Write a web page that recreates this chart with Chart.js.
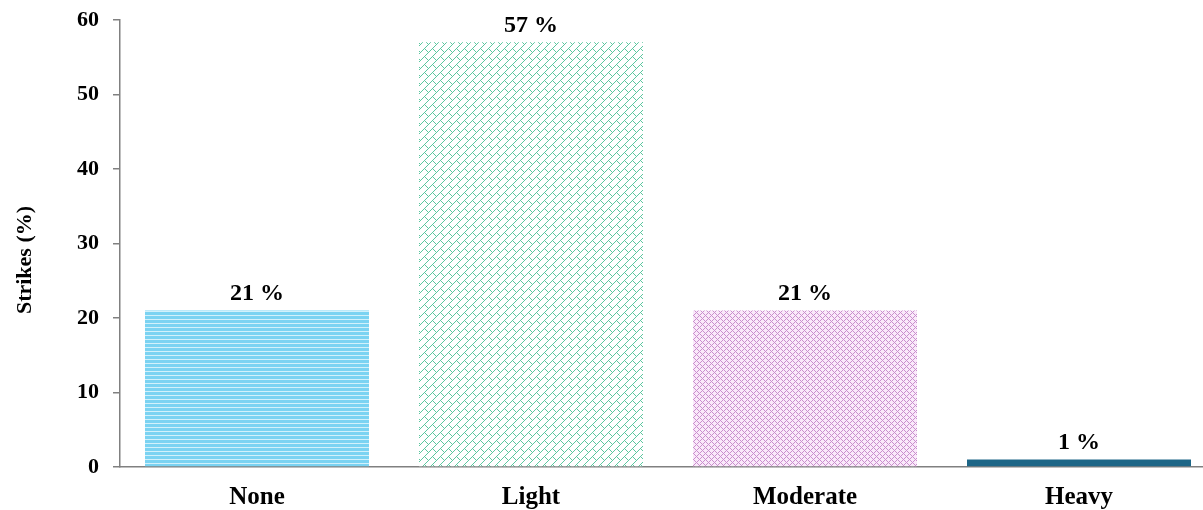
<!DOCTYPE html>
<html>
<head>
<meta charset="utf-8">
<script src="https://cdn.jsdelivr.net/npm/chart.js@4"></script>
<style>
  html, body { margin: 0; padding: 0; background: #ffffff; overflow: hidden; }
  #wrap { width: 1216px; height: 510px; position: relative; }
</style>
</head>
<body>
<div id="wrap"><canvas id="c"></canvas></div>
<script>
// Strike intensity categories and their share of all strikes (%)
const categories = ['None', 'Light', 'Moderate', 'Heavy'];
const strikePercent = [21, 57, 21, 1];
const yTicks = [0, 10, 20, 30, 40, 50, 60];
const yTitle = 'Strikes (%)';

const FONT = '"Liberation Serif", "Times New Roman", serif';

function hexRgb(h) {
  return [parseInt(h.slice(1, 3), 16), parseInt(h.slice(3, 5), 16), parseInt(h.slice(5, 7), 16)];
}

// build a repeating fill from a per-pixel rule
function pixelPattern(size, bg, fg, isInk) {
  const t = document.createElement('canvas');
  t.width = size; t.height = size;
  const g = t.getContext('2d');
  const img = g.createImageData(size, size);
  const b = hexRgb(bg), f = hexRgb(fg);
  for (let y = 0; y < size; y++) {
    for (let x = 0; x < size; x++) {
      const c = isInk(x, y) ? f : b;
      const k = (y * size + x) * 4;
      img.data[k] = c[0]; img.data[k + 1] = c[1]; img.data[k + 2] = c[2]; img.data[k + 3] = 255;
    }
  }
  g.putImageData(img, 0, 0);
  return document.getElementById('c').getContext('2d').createPattern(t, 'repeat');
}

// horizontal stripes (light blue)
const stripes = pixelPattern(4, '#7bd3f2', '#d2f1fb', (x, y) => y === 3);

// shingle weave (green): continuous "/" rules with staggered "\" caps
const shingle = pixelPattern(16, '#ffffff', '#5cc69f', (x, y) => {
  const s = x + y;
  const u = s % 8;
  const strip = Math.floor(s / 8) % 2;
  const v = ((x - y) % 16 + 16) % 16;
  const cap = ((v + strip * 8) % 16) < 1;
  return u === 0 || cap;
});

// diamond lattice (purple)
const lattice = pixelPattern(6, '#fae9fa', '#c98fcd', (x, y) => x === y || x === (6 - y) % 6);

const barFills = [stripes, shingle, lattice, '#1d6687'];

// value labels above each bar, plus the rotated y-axis title
const annotations = {
  id: 'annotations',
  afterDatasetsDraw(chart) {
    const ctx = chart.ctx;
    const meta = chart.getDatasetMeta(0);
    ctx.save();
    ctx.font = 'bold 24px ' + FONT;
    ctx.fillStyle = '#000000';
    ctx.textAlign = 'center';
    ctx.textBaseline = 'bottom';
    meta.data.forEach((bar, i) => {
      ctx.fillText(strikePercent[i] + ' %', bar.x, bar.y - 5);
    });
    ctx.restore();

    ctx.save();
    ctx.translate(25, chart.height / 2 + 5);
    ctx.rotate(-Math.PI / 2);
    ctx.font = 'bold 22px ' + FONT;
    ctx.fillStyle = '#000000';
    ctx.textAlign = 'center';
    ctx.textBaseline = 'middle';
    ctx.fillText(yTitle, 0, 0);
    ctx.restore();
  }
};

new Chart(document.getElementById('c'), {
  type: 'bar',
  data: {
    labels: categories,
    datasets: [{
      data: strikePercent,
      backgroundColor: barFills,
      borderWidth: 0,
      barPercentage: 0.8175,
      categoryPercentage: 1.0
    }]
  },
  options: {
    responsive: true,
    maintainAspectRatio: false,
    animation: false,
    layout: { padding: { top: 20, left: 0, right: 0, bottom: 0 } },
    plugins: {
      legend: { display: false },
      tooltip: { enabled: false }
    },
    scales: {
      x: {
        afterFit(scale) { scale.height = 43; scale.paddingLeft = 0; scale.paddingRight = 0; },
        grid: { display: false, drawTicks: false },
        border: { display: true, color: '#808080', width: 1.5 },
        ticks: {
          color: '#000000',
          padding: 16,
          font: { family: FONT, size: 25, weight: 'bold' }
        }
      },
      y: {
        min: 0,
        max: 60,
        afterBuildTicks(scale) { scale.ticks = yTicks.map(v => ({ value: v })); },
        afterFit(scale) { scale.width = 120; scale.paddingTop = 0; scale.paddingBottom = 0; },
        grid: {
          display: true,
          drawOnChartArea: false,
          drawTicks: true,
          tickLength: 7,
          tickColor: '#808080',
          lineWidth: 1.5
        },
        border: { display: true, color: '#808080', width: 1.5 },
        ticks: {
          color: '#000000',
          padding: 14,
          font: { family: FONT, size: 22, weight: 'bold' }
        },
        title: { display: false }
      }
    }
  },
  plugins: [annotations]
});
</script>
</body>
</html>
